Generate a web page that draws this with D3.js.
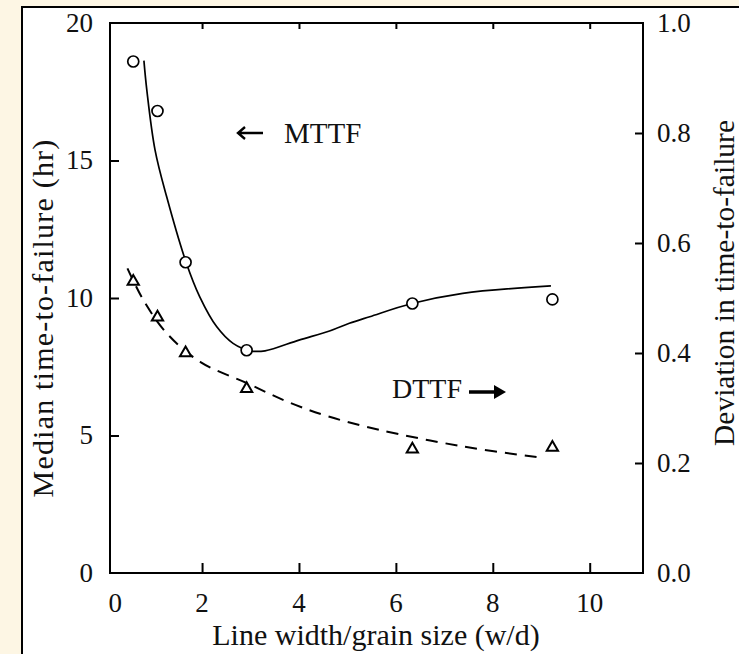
<!DOCTYPE html>
<html>
<head>
<meta charset="utf-8">
<script src="https://cdn.jsdelivr.net/npm/d3@7"></script>
<style>
  body { margin: 0; background: #fdf6e4; }
  text { font-family: "Liberation Serif", "Times New Roman", serif; fill: #111; }
</style>
</head>
<body>
<div id="chart"></div>
<script>
// measured points
const widthRatio = [0.58, 1.08, 1.66, 2.92, 6.34, 9.23];
const mttf = [18.6, 16.8, 11.3, 8.1, 9.8, 9.95];
const dttf = [0.53, 0.465, 0.40, 0.335, 0.225, 0.228];

// fitted curves as drawn in the figure
const mttfFitX = [0.8, 0.86, 1.03, 1.27, 1.67, 1.95, 2.3, 2.64, 3.0, 3.3, 4.0, 4.63, 5.04, 5.46, 6.33, 7.38, 9.2];
const mttfFitY = [18.63, 17.56, 15.38, 13.68, 11.3, 10.05, 8.96, 8.35, 8.08, 8.08, 8.47, 8.8, 9.08, 9.32, 9.8, 10.17, 10.44];
const dttfFitX = [0.46, 0.79, 1.27, 1.96, 2.93, 3.8, 4.63, 5.67, 7.39, 8.97];
const dttfFitY = [0.554, 0.496, 0.436, 0.384, 0.345, 0.31, 0.284, 0.26, 0.23, 0.21];

const xTicks = [0, 2, 4, 6, 8, 10];
const yLeftTicks = [0, 5, 10, 15, 20];
const yRightTicks = [0, 0.2, 0.4, 0.6, 0.8, 1.0];

const W = 739, H = 654;
const svg = d3.select("#chart").append("svg")
    .attr("width", W)
    .attr("height", H);

// white panel
svg.append("rect")
    .attr("x", 22).attr("y", 7)
    .attr("width", 740).attr("height", 660)
    .attr("fill", "#fff")
    .attr("stroke", "#000")
    .attr("stroke-width", 2);

const pLeft = 110, pRight = 643, pTop = 23, pBottom = 573;

const x = d3.scaleLinear().domain([0.1, 11.1]).range([pLeft, pRight]);
const yL = d3.scaleLinear().domain([0, 20]).range([pBottom, pTop]);
const yR = d3.scaleLinear().domain([0, 1]).range([pBottom, pTop]);

// plot box
svg.append("rect")
    .attr("x", pLeft).attr("y", pTop)
    .attr("width", pRight - pLeft).attr("height", pBottom - pTop)
    .attr("fill", "none")
    .attr("stroke", "#000")
    .attr("stroke-width", 2);

// tick marks (inward)
const tickStyle = g => {
    g.select(".domain").remove();
    g.selectAll("line").attr("stroke", "#000").attr("stroke-width", 2);
    g.selectAll("text").remove();
};
svg.append("g").attr("transform", `translate(0,${pBottom})`)
    .call(d3.axisBottom(x).tickValues(xTicks.filter(d => d > 0)).tickSize(-10).tickSizeOuter(0))
    .call(tickStyle);
svg.append("g").attr("transform", `translate(0,${pTop})`)
    .call(d3.axisTop(x).tickValues(xTicks.filter(d => d > 0)).tickSize(-6).tickSizeOuter(0))
    .call(tickStyle);
svg.append("g").attr("transform", `translate(${pLeft},0)`)
    .call(d3.axisLeft(yL).tickValues(yLeftTicks.slice(1, -1)).tickSize(-9).tickSizeOuter(0))
    .call(tickStyle);
svg.append("g").attr("transform", `translate(${pRight},0)`)
    .call(d3.axisRight(yR).tickValues(yRightTicks.slice(1, -1)).tickSize(-8).tickSizeOuter(0))
    .call(tickStyle);

// tick labels
const fs = 27;
svg.append("g").selectAll("text")
    .data(xTicks).enter().append("text")
    .attr("x", d => x(d) + (d === 0 ? 10 : 0))
    .attr("y", 612)
    .attr("text-anchor", "middle")
    .attr("font-size", fs)
    .text(d => d);
svg.append("g").selectAll("text")
    .data(yLeftTicks).enter().append("text")
    .attr("x", 93)
    .attr("y", d => yL(d))
    .attr("dy", "0.33em")
    .attr("text-anchor", "end")
    .attr("font-size", fs)
    .text(d => d);
svg.append("g").selectAll("text")
    .data(yRightTicks).enter().append("text")
    .attr("x", 657)
    .attr("y", d => yR(d))
    .attr("dy", "0.33em")
    .attr("text-anchor", "start")
    .attr("font-size", fs)
    .text(d => d3.format(".1f")(d));

// axis titles
svg.append("text")
    .attr("x", 376).attr("y", 645)
    .attr("text-anchor", "middle")
    .attr("font-size", 30)
    .text("Line width/grain size (w/d)");
svg.append("text")
    .attr("transform", "translate(53,318) rotate(-90)")
    .attr("text-anchor", "middle")
    .attr("font-size", 30)
    .attr("letter-spacing", 1.2)
    .text("Median time-to-failure (hr)");
svg.append("text")
    .attr("transform", "translate(734,283) rotate(-90)")
    .attr("text-anchor", "middle")
    .attr("font-size", 29.5)
    .text("Deviation in time-to-failure");

// fit curves
const mttfFit = mttfFitX.map((d, i) => [d, mttfFitY[i]]);
const dttfFit = dttfFitX.map((d, i) => [d, dttfFitY[i]]);

svg.append("path")
    .datum(mttfFit)
    .attr("fill", "none")
    .attr("stroke", "#000")
    .attr("stroke-width", 1.7)
    .attr("d", d3.line().x(d => x(d[0])).y(d => yL(d[1])).curve(d3.curveCatmullRom));

svg.append("path")
    .datum(dttfFit)
    .attr("fill", "none")
    .attr("stroke", "#000")
    .attr("stroke-width", 2)
    .attr("stroke-dasharray", "12,8")
    .attr("d", d3.line().x(d => x(d[0])).y(d => yR(d[1])).curve(d3.curveCatmullRom));

// markers
svg.append("g").selectAll("circle")
    .data(widthRatio).enter().append("circle")
    .attr("cx", d => x(d))
    .attr("cy", (d, i) => yL(mttf[i]))
    .attr("r", 5.5)
    .attr("fill", "#fff")
    .attr("stroke", "#000")
    .attr("stroke-width", 1.7);

const tri = d3.symbol().type(d3.symbolTriangle).size(55);
svg.append("g").selectAll("path")
    .data(widthRatio).enter().append("path")
    .attr("transform", (d, i) => `translate(${x(d)},${yR(dttf[i])})`)
    .attr("d", tri)
    .attr("fill", "#fff")
    .attr("stroke", "#000")
    .attr("stroke-width", 2);

// labels with arrows
svg.append("text")
    .attr("x", 284).attr("y", 143)
    .attr("font-size", 29)
    .text("MTTF");
svg.append("path")
    .attr("d", "M263,133 L238,133 M245,127 L238,133 L245,139")
    .attr("fill", "none")
    .attr("stroke", "#000")
    .attr("stroke-width", 2.4);

svg.append("text")
    .attr("x", 392).attr("y", 398)
    .attr("font-size", 28)
    .text("DTTF");
svg.append("path")
    .attr("d", "M469,392 L497,392")
    .attr("stroke", "#000")
    .attr("stroke-width", 3.5);
svg.append("path")
    .attr("d", "M494,385 L506,392 L494,399 Z")
    .attr("fill", "#000");
</script>
</body>
</html>
